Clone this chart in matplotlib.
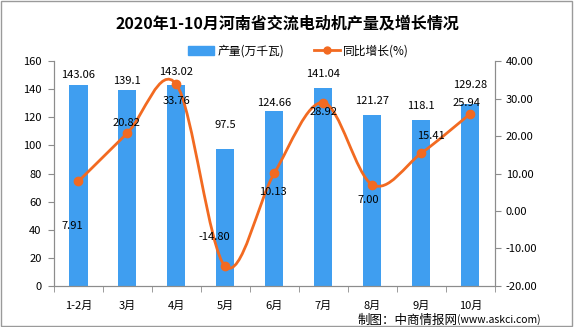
import numpy as np
import matplotlib.pyplot as plt
from matplotlib.path import Path
from matplotlib.patches import PathPatch, Rectangle, Patch
from matplotlib.lines import Line2D

plt.rcParams['font.family'] = ['Noto Sans CJK SC', 'DejaVu Sans']

months = ['1-2月', '3月', '4月', '5月', '6月', '7月', '8月', '9月', '10月']
output = [143.06, 139.1, 143.02, 97.5, 124.66, 141.04, 121.27, 118.1, 129.28]
growth = [7.91, 20.82, 33.76, -14.80, 10.13, 28.92, 7.00, 15.41, 25.94]

# label placement (pixels)
bar_label_dy = [10, 9, 13, 24, 8, 14, 14, 14, 19]
line_label_off = [(-6, -45), (-1, 10), (0, -17), (-11, 29), (-1, -19),
                  (0, -9), (-4, -15), (10, 17), (-4, 11)]

BAR = '#3F9EF0'
LINE = '#F26A21'
AXC = '#8C8C8C'

fig = plt.figure(figsize=(5.74, 3.27), dpi=100)
ax = fig.add_axes([0.094, 0.1254, 0.768, 0.688])
ax2 = ax.twinx()

x = np.arange(len(months))
ax.bar(x, output, width=0.37, color=BAR, zorder=2)
ax.set_xlim(-0.5, len(months) - 0.5)
ax.set_ylim(0, 160)
ax.set_yticks(np.arange(0, 161, 20))
ax2.set_ylim(-20, 40)
ax2.set_yticks(np.arange(-20, 41, 10))
ax2.set_yticklabels([f"{v:.2f}" for v in np.arange(-20, 41, 10)])

ax.set_xticks(x)
ax.set_xticklabels(months)
ax.set_xticks(np.arange(-0.5, len(months), 1), minor=True)
ax.tick_params(axis='x', which='major', length=0, pad=11, labelsize=8)
ax.tick_params(axis='x', which='minor', length=4, color=AXC)
ax.tick_params(axis='y', length=4, color=AXC, pad=5, labelsize=8)
ax2.tick_params(axis='y', length=4, color=AXC, pad=4, labelsize=8)

for a in (ax, ax2):
    a.spines['top'].set_visible(False)
    for s in ('left', 'right', 'bottom'):
        a.spines[s].set_color(AXC)

# smooth line through the points (Catmull-Rom as cubic Bezier segments)
pts = np.column_stack([x, growth]).astype(float)
ext = np.vstack([pts[0], pts, pts[-1]])
verts = [pts[0]]
codes = [Path.MOVETO]
for i in range(len(pts) - 1):
    p0, p1, p2, p3 = ext[i], ext[i + 1], ext[i + 2], ext[i + 3]
    verts += [p1 + (p2 - p0) / 6, p2 - (p3 - p1) / 6, p2]
    codes += [Path.CURVE4] * 3
ax2.add_patch(PathPatch(Path(verts, codes), fill=False, ec=LINE, lw=2, zorder=3))
ax2.plot(x, growth, 'o', color=LINE, ms=6, zorder=4)

for i, v in enumerate(output):
    ax.annotate(f"{v:g}", (x[i], v), xytext=(0, bar_label_dy[i]),
                textcoords='offset pixels', ha='center', va='center', fontsize=8)
for i, v in enumerate(growth):
    ax2.annotate(f"{v:.2f}", (x[i], v), xytext=line_label_off[i],
                 textcoords='offset pixels', ha='center', va='center', fontsize=8, zorder=5)

fig.text(0.5, 1 - 24 / 327, '2020年1-10月河南省交流电动机产量及增长情况',
         ha='center', va='center', fontsize=11.5, fontweight='bold')

handles = [Patch(color=BAR, label='产量(万千瓦)'),
           Line2D([], [], color=LINE, lw=2, marker='o', ms=5, label='同比增长(%)')]
fig.legend(handles=handles, loc='center', bbox_to_anchor=(0.52, 1 - 51 / 327), ncol=2,
           frameon=False, fontsize=8.5, handlelength=2.2, columnspacing=2.5, handletextpad=0.3)

fig.canvas.draw()
t2 = fig.text(0.9425, 1 - 320 / 327, '(www.askci.com)', ha='right', va='center', fontsize=7.5)
bb = t2.get_window_extent(fig.canvas.get_renderer())
fig.text(bb.x0 / fig.bbox.width, 1 - 320 / 327, '制图：中商情报网', ha='right', va='center', fontsize=9)

fig.patches.append(Rectangle((0.002, 0.004), 0.994, 0.992, transform=fig.transFigure,
                             fill=False, ec='#9A9A9A', lw=1))

fig.savefig('out.png', dpi=100)
